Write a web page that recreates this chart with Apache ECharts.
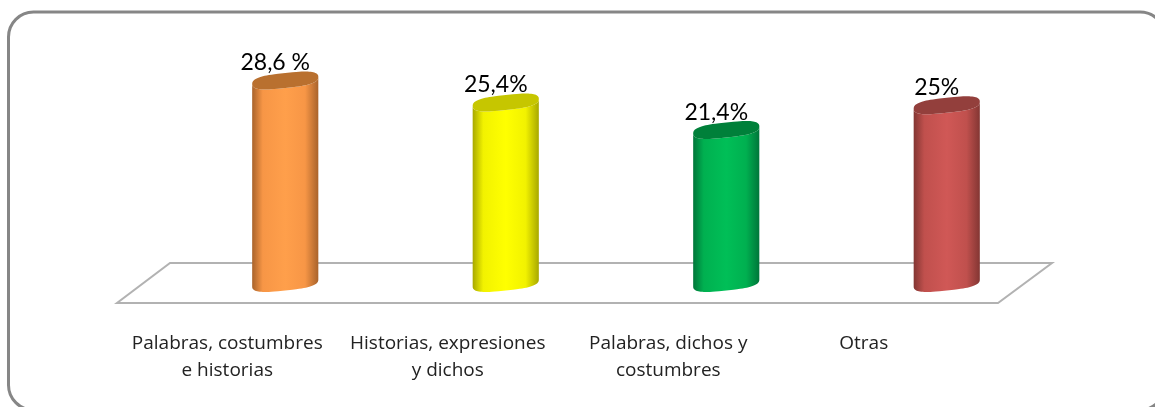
<!DOCTYPE html>
<html>
<head>
<meta charset="utf-8">
<style>html,body{margin:0;padding:0;background:#fff}#c{width:1155px;height:407px}</style>
<script src="https://cdn.jsdelivr.net/npm/echarts@6/dist/echarts.min.js"></script>
</head>
<body>
<div id="c"></div>
<script>
const categories = ['Palabras, costumbres\ne historias', 'Historias, expresiones\ny dichos', 'Palabras, dichos y\ncostumbres', 'Otras'];
const values = [28.6, 25.4, 21.4, 25];
const valueLabels = ['28,6 %', '25,4%', '21,4%', '25%'];
const edgeColors = ['#A9632B', '#A8A800', '#00763A', '#833633'];
const bodyColors = ['#F79646', '#F2F200', '#00B050', '#C0504D'];
const midColors = ['#FF9F4B', '#FFFF00', '#00BF57', '#D05856'];
const capColors = ['#B9702F', '#C6C600', '#00803A', '#933F3C'];

const chart = echarts.init(document.getElementById('c'), null, {renderer: 'canvas'});

function ellipsePoints(cx, cy, rx, ry, skew, from, to, n) {
  const pts = [];
  for (let i = 0; i <= n; i++) {
    const t = from + (to - from) * i / n;
    const c = Math.cos(t), s = Math.sin(t);
    const ce = Math.sign(c) * Math.pow(Math.abs(c), 0.6);
    const se = Math.sign(s) * Math.pow(Math.abs(s), 0.8);
    pts.push([cx + rx * ce, cy - skew * ce + ry * se]);
  }
  return pts;
}

function renderCylinder(params, api) {
  const i = api.value(0);
  const top = api.coord([i, api.value(1)]);
  const base = api.coord([i, 0]);
  const band = api.size([1, 0])[0];
  const rx = band * 0.15, ry = 7.5, skew = 3.5;
  const cx = top[0], cyT = top[1], cyB = base[1] + 6;
  const body = ellipsePoints(cx, cyB, rx, ry, skew, Math.PI, 0, 40)
    .concat(ellipsePoints(cx, cyT, rx, ry, skew, 0, Math.PI, 40));
  const cap = ellipsePoints(cx, cyT, rx, ry, skew, 0, 2 * Math.PI, 80);
  const fill = new echarts.graphic.LinearGradient(0, 0, 1, 0, [
    {offset: 0, color: edgeColors[i]},
    {offset: 0.16, color: bodyColors[i]},
    {offset: 0.5, color: midColors[i]},
    {offset: 0.8, color: bodyColors[i]},
    {offset: 1, color: edgeColors[i]}
  ]);
  return {
    type: 'group',
    children: [
      {type: 'polygon', shape: {points: body}, style: {fill: fill}},
      {type: 'polygon', shape: {points: cap}, style: {fill: capColors[i]}},
      {type: 'text', style: {
        text: valueLabels[i], x: cx - 10, y: cyT - 17.5,
        align: 'center', verticalAlign: 'middle',
        font: '23px Lato', fill: '#000'
      }}
    ]
  };
}

chart.setOption({
  animation: false,
  backgroundColor: '#ffffff',
  graphic: [
    {type: 'rect', z: 0, shape: {x: 8.5, y: 12, width: 1156.5, height: 398, r: 25},
     style: {fill: '#fff', stroke: '#868686', lineWidth: 3}},
    {type: 'polygon', z: 1, shape: {points: [[170, 263], [1052, 263], [998, 303], [117, 303]]},
     style: {fill: '#fff', stroke: '#B2B2B2', lineWidth: 2}}
  ],
  grid: {left: 175, right: 98, top: 40, bottom: 130},
  xAxis: {
    type: 'category',
    data: categories,
    axisLine: {show: false},
    axisTick: {show: false},
    axisLabel: {
      interval: 0,
      margin: 53,
      padding: [0, 116, 0, 0],
      color: '#222',
      fontFamily: 'Open Sans',
      fontSize: 19,
      lineHeight: 27,
      formatter: function (v) { return v === 'Otras' ? '{o|' + v + '}' : v; },
      rich: {o: {padding: [0, 50, 0, 0], color: '#222', fontFamily: 'Open Sans', fontSize: 19, lineHeight: 27}}
    }
  },
  yAxis: {type: 'value', min: 0, max: 34.5, show: false},
  series: [{
    type: 'custom',
    z: 5,
    clip: false,
    renderItem: renderCylinder,
    encode: {x: 0, y: 1},
    data: values.map((v, i) => [i, v])
  }]
});
</script>
</body>
</html>
